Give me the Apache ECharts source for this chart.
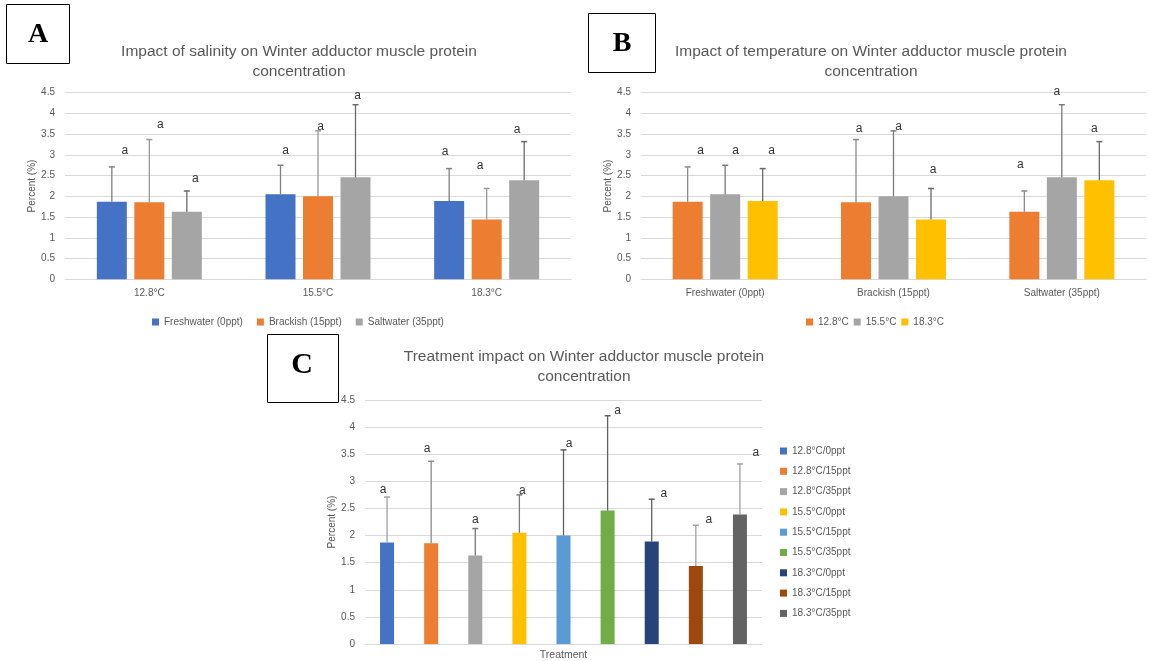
<!DOCTYPE html>
<html>
<head>
<meta charset="utf-8">
<script src="https://cdn.jsdelivr.net/npm/echarts@6/dist/echarts.min.js"></script>
<style>
html,body{margin:0;padding:0;background:#fff;}
#chart{width:1149px;height:661px;}
</style>
</head>
<body>
<div id="chart"></div>
<script>
// ---------------- DATA ----------------
const temps = ['12.8°C', '15.5°C', '18.3°C'];
const salinities = ['Freshwater (0ppt)', 'Brackish (15ppt)', 'Saltwater (35ppt)'];
const treatments = ['12.8°C/0ppt', '12.8°C/15ppt', '12.8°C/35ppt',
                    '15.5°C/0ppt', '15.5°C/15ppt', '15.5°C/35ppt',
                    '18.3°C/0ppt', '18.3°C/15ppt', '18.3°C/35ppt'];
const yTicks = [0, 0.5, 1, 1.5, 2, 2.5, 3, 3.5, 4, 4.5];

// means per salinity, indexed by temperature (12.8, 15.5, 18.3)
const freshMean  = [1.87, 2.05, 1.89];
const brackMean  = [1.86, 2.00, 1.44];
const saltMean   = [1.63, 2.46, 2.39];
// upper end of error bars
const freshUpper = [2.71, 2.75, 2.67];
const brackUpper = [3.37, 3.58, 2.19];
const saltUpper  = [2.13, 4.21, 3.32];

// significance letters and the heights they sit at
const sigLetter = 'a';
const letterA_fresh = [3.10, 3.10, 3.07];
const letterA_brack = [3.72, 3.68, 2.74];
const letterA_salt  = [2.42, 4.44, 3.61];
const letterB_t128  = [3.09, 3.64, 2.77];
const letterB_t155  = [3.09, 3.69, 4.52];
const letterB_t183  = [3.09, 2.65, 3.64];
const letterC       = [2.84, 3.60, 2.30, 2.82, 3.70, 4.31, 2.78, 2.30, 3.52];

// ---------------- STYLE ----------------
const FONT = 'Liberation Sans';
const TXT = '#595959';
const GRIDC = '#d9d9d9';
const colA = ['#4472C4', '#ED7D31', '#A5A5A5'];
const colB = ['#ED7D31', '#A5A5A5', '#FFC000'];
const colC = ['#4472C4', '#ED7D31', '#A5A5A5', '#FFC000', '#5B9BD5', '#70AD47', '#264478', '#9E480E', '#636363'];
const errColA = ['#7f7f7f', '#9a9a9a', '#6a6a6a'];
const errColB = ['#8a8a8a', '#7a7a7a', '#6a6a6a'];
const errColC = ['#a0a0a0', '#8a8a8a', '#7a7a7a', '#7a7a7a', '#606060', '#606060', '#606060', '#a0a0a0', '#a0a0a0'];
// horizontal nudges of letters (px), per category / per item
const nudgeA = [[13, 5, -4], [11, 2.5, -6.5], [8.5, 2, -7]];
const nudgeB = [[13, 3, -4], [10.5, 5, -5], [9, 2, -5]];
const nudgeC = [-4, -4, 0, 3, 5.5, 10, 12, 13, 16];

const meansBySal = [freshMean, brackMean, saltMean];
const upperBySal = [freshUpper, brackUpper, saltUpper];
const lettersA = [letterA_fresh, letterA_brack, letterA_salt];
const lettersB = [letterB_t128, letterB_t155, letterB_t183];

const BW = 30, BGAP = 7.5;

function makeErr(offsetPx, errColor, nudgeArr) {
  return function (params, api) {
    const cat = api.value(0);
    const mean = api.value(1);
    const up = api.value(2);
    const ly = api.value(3);
    const k = api.value(4);
    const base = api.coord([cat, mean]);
    const x = base[0] + offsetPx;
    const top = api.coord([cat, up])[1];
    const lyPx = api.coord([cat, ly])[1];
    const c = Array.isArray(errColor) ? errColor[k] : errColor;
    const dx = nudgeArr[k];
    return {
      type: 'group',
      children: [
        { type: 'line', shape: { x1: x, y1: base[1], x2: x, y2: top }, style: { stroke: c, lineWidth: 1.3 } },
        { type: 'line', shape: { x1: x - 3, y1: top, x2: x + 3, y2: top }, style: { stroke: c, lineWidth: 1.5 } },
        { type: 'text', style: { text: sigLetter, x: x + dx, y: lyPx, align: 'center', verticalAlign: 'middle',
          fontSize: 12, fontFamily: FONT, fill: '#333' } }
      ]
    };
  };
}

const series = [];
// Panel A: groups = temperature, series = salinity
salinities.forEach((s, i) => {
  series.push({
    name: s, type: 'bar', xAxisIndex: 0, yAxisIndex: 0,
    data: meansBySal[i], barWidth: BW, barGap: (BGAP / BW * 100) + '%',
    itemStyle: { color: colA[i] }, z: 2
  });
});
salinities.forEach((s, i) => {
  const off = (i - 1) * (BW + BGAP);
  series.push({
    type: 'custom', xAxisIndex: 0, yAxisIndex: 0, z: 3, silent: true,
    renderItem: makeErr(off, errColA[i], nudgeA[i]),
    encode: { x: 0, y: 2 },
    data: temps.map((t, j) => [j, meansBySal[i][j], upperBySal[i][j], lettersA[i][j], j])
  });
});
// Panel B: groups = salinity, series = temperature
temps.forEach((t, i) => {
  series.push({
    name: t, type: 'bar', xAxisIndex: 1, yAxisIndex: 1,
    data: salinities.map((s, j) => meansBySal[j][i]), barWidth: BW, barGap: (BGAP / BW * 100) + '%',
    itemStyle: { color: colB[i] }, z: 2
  });
});
temps.forEach((t, i) => {
  const off = (i - 1) * (BW + BGAP);
  series.push({
    type: 'custom', xAxisIndex: 1, yAxisIndex: 1, z: 3, silent: true,
    renderItem: makeErr(off, errColB[i], nudgeB[i]),
    encode: { x: 0, y: 2 },
    data: salinities.map((s, j) => [j, meansBySal[j][i], upperBySal[j][i], lettersB[i][j], j])
  });
});
// Panel C: every treatment
const cMeans = [], cUpper = [];
temps.forEach((t, i) => salinities.forEach((s, j) => { cMeans.push(meansBySal[j][i]); cUpper.push(upperBySal[j][i]); }));
treatments.forEach((name, k) => {
  series.push({
    name: name, type: 'bar', xAxisIndex: 2, yAxisIndex: 2,
    data: treatments.map((n, m) => m === k ? cMeans[k] : '-'),
    barWidth: 14, barGap: '-100%', itemStyle: { color: colC[k] }, z: 2
  });
});
series.push({
  type: 'custom', xAxisIndex: 2, yAxisIndex: 2, z: 3, silent: true,
  renderItem: makeErr(0, errColC, nudgeC),
  encode: { x: 0, y: 2 },
  data: treatments.map((n, k) => [k, cMeans[k], cUpper[k], letterC[k], k])
});

function yAx(grid, nameGap) {
  return {
    type: 'value', gridIndex: grid, min: yTicks[0], max: yTicks[yTicks.length - 1], interval: yTicks[1] - yTicks[0],
    name: 'Percent (%)', nameLocation: 'middle', nameGap: nameGap, nameRotate: 90,
    nameTextStyle: { fontFamily: FONT, fontSize: 10, color: TXT },
    axisLine: { show: false }, axisTick: { show: false },
    axisLabel: { fontFamily: FONT, fontSize: 10, color: TXT, margin: 10 },
    splitLine: { lineStyle: { color: GRIDC, width: 1 } }
  };
}
function xAx(grid, data, showLabel) {
  return {
    type: 'category', gridIndex: grid, data: data,
    axisLine: { lineStyle: { color: GRIDC } }, axisTick: { show: false },
    axisLabel: { show: showLabel, fontFamily: FONT, fontSize: 10, color: TXT, margin: 9 }
  };
}

const titleStyle = { fontFamily: FONT, fontSize: 15.5, fontWeight: 'normal', color: TXT, lineHeight: 20 };
const legendText = { fontFamily: FONT, fontSize: 10, color: TXT };

const option = {
  animation: false,
  backgroundColor: '#fff',
  title: [
    { text: 'Impact of salinity on Winter adductor muscle protein\nconcentration', left: 294, top: 37, textAlign: 'center', textStyle: titleStyle },
    { text: 'Impact of temperature on Winter adductor muscle protein\nconcentration', left: 866, top: 37, textAlign: 'center', textStyle: titleStyle },
    { text: 'Treatment impact on Winter adductor muscle protein\nconcentration', left: 579, top: 342, textAlign: 'center', textStyle: titleStyle }
  ],
  grid: [
    { left: 65, top: 92.7, width: 506, height: 186.6, outerBoundsMode: 'none' },
    { left: 641, top: 92.7, width: 505, height: 186.6, outerBoundsMode: 'none' },
    { left: 365, top: 400, width: 397, height: 244, outerBoundsMode: 'none' }
  ],
  xAxis: [
    xAx(0, temps, true),
    xAx(1, salinities, true),
    Object.assign(xAx(2, treatments, false), { name: 'Treatment', nameLocation: 'middle', nameGap: 6,
      nameTextStyle: { fontFamily: FONT, fontSize: 10.5, color: TXT } })
  ],
  yAxis: [yAx(0, 28), yAx(1, 28), yAx(2, 27)],
  legend: [
    { data: salinities, left: 147, top: 312, icon: 'rect', itemWidth: 7, itemHeight: 7, itemGap: 14, textStyle: legendText, selectedMode: false },
    { data: temps, left: 801, top: 312, icon: 'rect', itemWidth: 7, itemHeight: 7, itemGap: 5, textStyle: legendText, selectedMode: false },
    { data: treatments, orient: 'vertical', left: 775, top: 441, icon: 'rect', itemWidth: 7, itemHeight: 7, itemGap: 10.3, textStyle: legendText, selectedMode: false }
  ],
  graphic: [
    { type: 'rect', shape: { x: 6.5, y: 4.5, width: 63, height: 59 }, style: { fill: '#fff', stroke: '#000', lineWidth: 1 } },
    { type: 'text', x: 38, y: 35, style: { text: 'A', font: 'bold 28px "Liberation Serif"', fill: '#000', align: 'center', verticalAlign: 'middle' } },
    { type: 'rect', shape: { x: 588.5, y: 13.5, width: 67, height: 59 }, style: { fill: '#fff', stroke: '#000', lineWidth: 1 } },
    { type: 'text', x: 622, y: 44, style: { text: 'B', font: 'bold 28px "Liberation Serif"', fill: '#000', align: 'center', verticalAlign: 'middle' } },
    { type: 'rect', shape: { x: 267.5, y: 334.5, width: 71, height: 68 }, style: { fill: '#fff', stroke: '#000', lineWidth: 1 } },
    { type: 'text', x: 302, y: 365, style: { text: 'C', font: 'bold 30px "Liberation Serif"', fill: '#000', align: 'center', verticalAlign: 'middle' } }
  ],
  series: series
};

const chart = echarts.init(document.getElementById('chart'), null, { renderer: 'canvas' });
chart.setOption(option);
</script>
</body>
</html>
